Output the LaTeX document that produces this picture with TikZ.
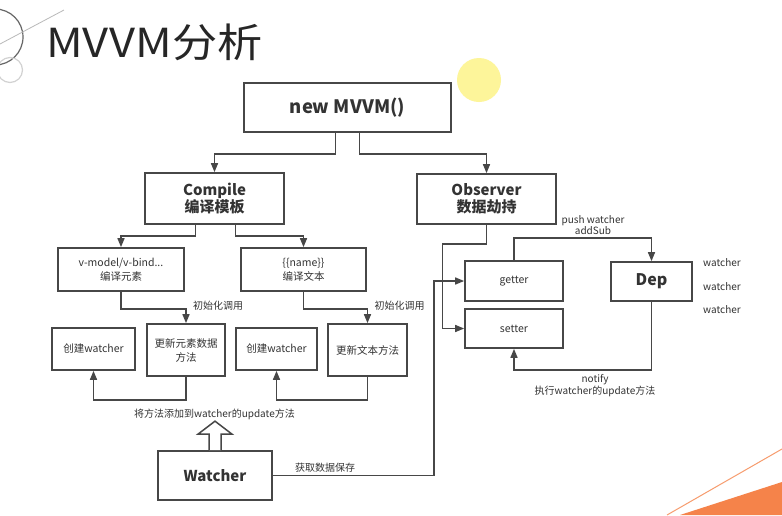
\documentclass[tikz,border=0pt]{standalone}
\usepackage{fontspec}
\setmainfont{Noto Sans CJK SC}
\usetikzlibrary{arrows.meta,calc}
\definecolor{boxc}{HTML}{474747}
\definecolor{linec}{HTML}{474747}
\definecolor{txtc}{HTML}{333333}
\definecolor{orng}{HTML}{F5834A}
\definecolor{sun}{HTML}{FDF59A}
\tikzset{
  box/.style={draw=boxc,line width=1.7pt,text=txtc,inner sep=0pt,align=center,fill=white},
  bigbox/.style={box,font=\fontsize{15}{18}\selectfont\bfseries},
  smallbox/.style={box,font=\fontsize{10.5}{14}\selectfont},
  arr/.style={draw=linec,line width=1.5pt,-{Triangle[length=9pt,width=7pt]}},
  lbl/.style={text=txtc,font=\fontsize{10}{13}\selectfont,inner sep=0pt,align=center}
}
\begin{document}
\begin{tikzpicture}[x=1pt,y=-1pt]
\useasboundingbox (0,0) rectangle (782,515);
\fill[white] (0,0) rectangle (782,515);
% decorations
\draw[gray!80!black,line width=1.2pt] (-5,37) circle (28);
\draw[gray!35,line width=1.2pt] (10,70) circle (12.5);
\draw[gray!55,line width=0.8pt] (0,44) -- (64,10);
\fill[sun] (479,80) circle (22);
\fill[orng] (680,515) -- (782,482) -- (782,515) -- cycle;
\draw[orng!80,line width=1pt] (667,515) -- (782,449);
% title
\node[anchor=base west,inner sep=0pt,text=black!85,font=\fontsize{40}{44}\selectfont] (title) at (46,57) {\scalebox{1.13}[1]{MVVM分析}};
% boxes
\node[box,minimum width=207pt,minimum height=49pt,font=\fontsize{18.5}{20}\selectfont\bfseries] (mvvm) at (347.5,107.5) {new MVVM()};
\node[bigbox,minimum width=139pt,minimum height=51pt] (compile) at (214.5,198.5) {Compile\\[-1pt]编译模板};
\node[bigbox,minimum width=139pt,minimum height=50pt] (observer) at (486.5,199) {Observer\\[-1pt]数据劫持};
\node[smallbox,minimum width=126pt,minimum height=43pt] (vmodel) at (121,269.5) {v-model/v-bind...\\编译元素};
\node[smallbox,minimum width=125pt,minimum height=43pt] (name) at (303.5,269.5) {\{\{name\}\}\\编译文本};
\node[smallbox,minimum width=83pt,minimum height=42pt] (cwa) at (93.5,349) {创建watcher};
\node[smallbox,minimum width=78pt,minimum height=52pt] (upda) at (186,350) {更新元素数据\\方法};
\node[smallbox,minimum width=81pt,minimum height=42pt] (cwb) at (276.5,349) {创建watcher};
\node[smallbox,minimum width=79pt,minimum height=52pt] (updb) at (367.5,350) {更新文本方法};
\node[bigbox,minimum width=114pt,minimum height=49pt] (watcher) at (215,475.5) {Watcher};
\node[smallbox,minimum width=98pt,minimum height=40pt] (getter) at (514,281) {getter};
\node[smallbox,minimum width=98pt,minimum height=39pt] (setter) at (514,328.5) {setter};
\node[bigbox,minimum width=81pt,minimum height=39pt,font=\fontsize{16}{18}\selectfont\bfseries] (dep) at (651.5,281.5) {Dep};
% connectors
\draw[arr] ([xshift=-12pt]mvvm.south) -- ++(0,21) -| (compile.north);
\draw[arr] ([xshift=12pt]mvvm.south) -- ++(0,21) -| (observer.north);
\draw[arr] ([xshift=-19pt]compile.south) -- ++(0,11) -| (vmodel.north);
\draw[arr] ([xshift=21pt]compile.south) -- ++(0,11) -| (name.north);
\draw[arr] (vmodel.south) -- ++(0,17) -| (upda.north);
\draw[arr] (name.south) -- ++(0,17) -| (updb.north);
\node[lbl,anchor=west] (inita) at ($(upda.north)+(7,-17)$) {初始化调用};
\node[lbl,anchor=west] (initb) at ($(updb.north)+(7,-17)$) {初始化调用};
\draw[arr] (upda.south) -- ++(0,23) -| (cwa.south);
\draw[arr] (updb.south) -- ++(0,23) -| (cwb.south);
\node[lbl] (addlbl) at (214.5,414) {将方法添加到watcher的update方法};
% hollow arrow
\draw[draw=boxc,line width=1.5pt,fill=white,line join=miter]
  ($(watcher.north)+(-6,0)$) -- ++(0,-16) -- ++(-11,0) -- ($(watcher.north)+(0,-29)$)
  -- ($(watcher.north)+(17,-16)$) -- ++(-11,0) -- ($(watcher.north)+(6,0)$);
\draw[arr] (watcher.east) -- ++(161,0) |- (getter.west);
\node[lbl,anchor=south west] (getlbl) at ($(watcher.east)+(22,-3)$) {获取数据保存};
\draw[arr] (observer.south) -- ++(0,19) -- ++(-44,0) |- (setter.west);
\draw[arr] (getter.north) -- ++(0,-22) -| (dep.north);
\node[lbl,anchor=south] (pushlbl) at (593,235) {push watcher\\[-2pt]addSub};
\draw[arr] (dep.south) -- ++(0,68) -| (setter.south);
\node[lbl,anchor=north] (notilbl) at (595,374) {notify\\[-1pt]执行watcher的update方法};
\node[lbl] (wa) at (722,263) {watcher};
\node[lbl] (wb) at (722,287) {watcher};
\node[lbl] (wc) at (722,310) {watcher};
\end{tikzpicture}
\end{document}
